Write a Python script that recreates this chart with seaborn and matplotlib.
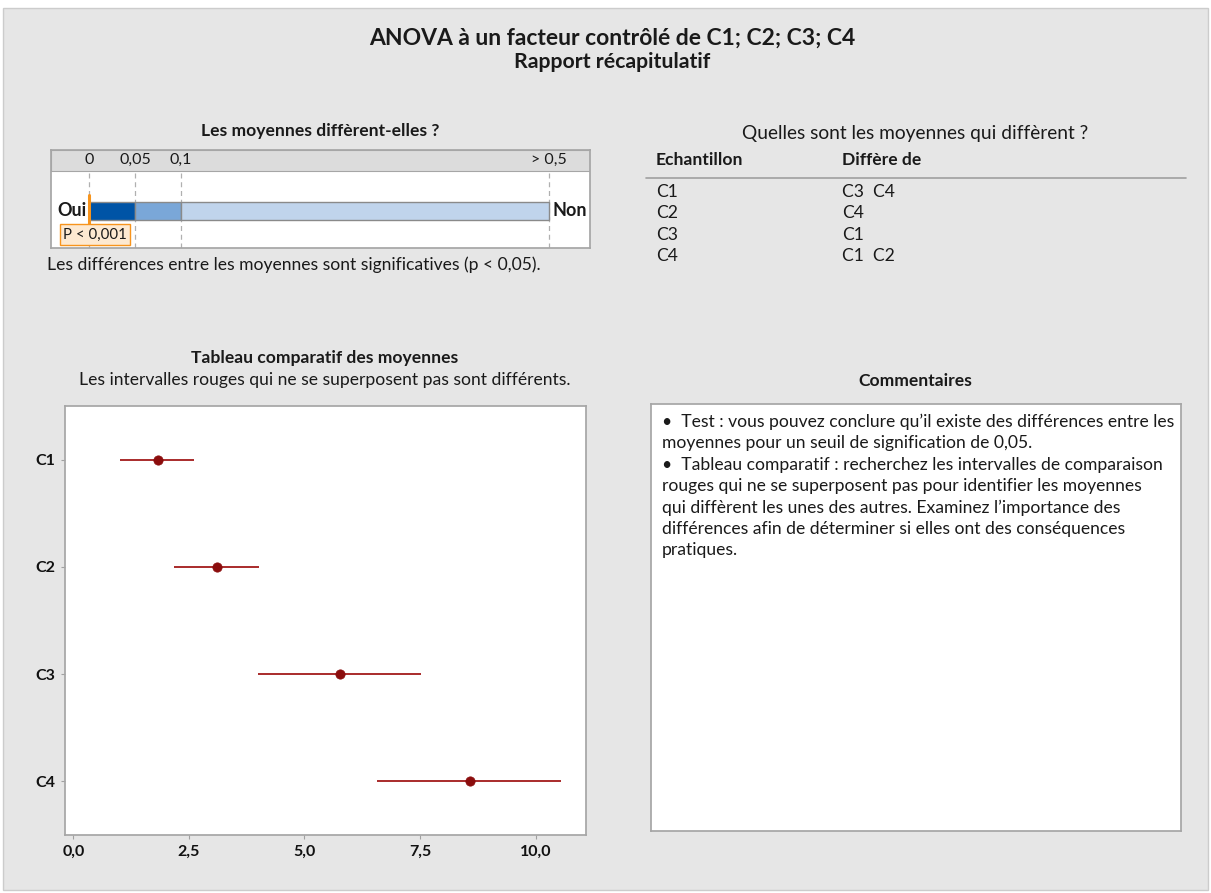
import numpy as np
import pandas as pd
import matplotlib
matplotlib.use("Agg")
import matplotlib.pyplot as plt
from matplotlib.patches import Rectangle
from matplotlib.lines import Line2D
import seaborn as sns

groups = ["C1", "C2", "C3", "C4"]
means = [1.83, 3.10, 5.76, 8.57]
ci_low = [1.02, 2.17, 3.99, 6.57]
ci_high = [2.60, 4.02, 7.52, 10.54]
x_ticks = [0.0, 2.5, 5.0, 7.5, 10.0]

p_cuts = [0.0, 0.05, 0.1, 0.5]
p_labels = ["0", "0,05", "0,1", "> 0,5"]
p_value = 0.0
p_text = "P < 0,001"

differs_from = ["C3  C4", "C4", "C1", "C1  C2"]

comments = [
    "•  Test : vous pouvez conclure qu’il existe des différences entre les",
    "moyennes pour un seuil de signification de 0,05.",
    "•  Tableau comparatif : recherchez les intervalles de comparaison",
    "rouges qui ne se superposent pas pour identifier les moyennes",
    "qui diffèrent les unes des autres. Examinez l’importance des",
    "différences afin de déterminer si elles ont des conséquences",
    "pratiques.",
]

sns.set_theme(style="white")
plt.rcParams["font.family"] = ["Lato", "DejaVu Sans"]
plt.rcParams["text.color"] = "#1a1a1a"

W, H = 1211, 893
BG = "#e6e6e6"
EDGE = "#a6a6a6"
FS = 12.6  # taille du texte courant


def fx(x):
    return x / W


def fy(y):
    return 1 - y / H


def box(x0, y0, x1, y1):
    return [fx(x0), fy(y1), fx(x1) - fx(x0), fy(y0) - fy(y1)]


fig = plt.figure(figsize=(W / 100, H / 100), dpi=100, facecolor="white")
fig.patches.append(Rectangle((fx(3), fy(890)), fx(1208) - fx(3), fy(8) - fy(890),
                             transform=fig.transFigure, facecolor=BG,
                             edgecolor="#cccccc", lw=1, zorder=-10))

# titres
fig.text(fx(612), fy(38), "ANOVA à un facteur contrôlé de C1; C2; C3; C4",
         ha="center", va="center", fontsize=16.5, fontweight="bold")
fig.text(fx(612), fy(62), "Rapport récapitulatif",
         ha="center", va="center", fontsize=15.3, fontweight="bold")

# --- les moyennes different-elles ? ---
fig.text(fx(320), fy(131), "Les moyennes diffèrent-elles ?",
         ha="center", va="center", fontsize=FS, fontweight="bold")
axp = fig.add_axes(box(51, 150, 590, 248))
axp.set_facecolor("white")
px_per = (135 - 89) / 0.05
axp.set_xlim((51 - 89) / px_per, (590 - 89) / px_per)
axp.set_ylim(0, 1)
axp.set_xticks([])
axp.set_yticks([])
for s in axp.spines.values():
    s.set_color(EDGE)
axp.add_patch(Rectangle((0, 0.786), 1, 0.214, transform=axp.transAxes,
                        facecolor="#dcdcdc", edgecolor=EDGE, lw=0.8, zorder=0))

bar_cols = ["#0054a6", "#7aa7d8", "#c0d4ec"]
axp.barh([0.378] * 3, np.diff(p_cuts), left=p_cuts[:-1], height=0.184,
         color=bar_cols, edgecolor="#8a8a8a", linewidth=1, zorder=2)
for c, lab in zip(p_cuts, p_labels):
    axp.plot([c, c], [0, 0.786], ls=(0, (4, 3)), color="#b0b0b0", lw=0.9, zorder=1)
    axp.text(c, 0.898, lab, ha="center", va="center", fontsize=11.5)
axp.text(-0.003, 0.378, "Oui", ha="right", va="center", fontsize=13, fontweight="bold")
axp.text(0.504, 0.378, "Non", ha="left", va="center", fontsize=13, fontweight="bold")
axp.plot([p_value, p_value], [0.235, 0.541], color="#f7941d", lw=2.2, zorder=4)
axp.text(p_value + 0.0067, 0.137, p_text, ha="center", va="center", fontsize=10.8,
         bbox=dict(boxstyle="square,pad=0.22", facecolor="#fde9d1",
                   edgecolor="#f7941d", lw=1), zorder=5)
fig.text(fx(47), fy(265), "Les différences entre les moyennes sont significatives (p < 0,05).",
         ha="left", va="center", fontsize=FS)

# --- quelles moyennes different ---
fig.text(fx(915), fy(133), "Quelles sont les moyennes qui diffèrent ?",
         ha="center", va="center", fontsize=13.8)
fig.text(fx(656), fy(160), "Echantillon", ha="left", va="center", fontsize=FS,
         fontweight="bold")
fig.text(fx(842), fy(160), "Diffère de", ha="left", va="center", fontsize=FS,
         fontweight="bold")
fig.lines.append(Line2D([fx(646), fx(1186)], [fy(178), fy(178)],
                        transform=fig.transFigure, color="#a0a0a0", lw=1.2))
for i, (g, d) in enumerate(zip(groups, differs_from)):
    yy = 192 + i * 21.3
    fig.text(fx(656), fy(yy), g, ha="left", va="center", fontsize=FS)
    fig.text(fx(842), fy(yy), d, ha="left", va="center", fontsize=FS)

# --- tableau comparatif ---
fig.text(fx(325), fy(358), "Tableau comparatif des moyennes",
         ha="center", va="center", fontsize=FS, fontweight="bold")
fig.text(fx(325), fy(380), "Les intervalles rouges qui ne se superposent pas sont différents.",
         ha="center", va="center", fontsize=FS)

df = pd.DataFrame({"groupe": groups, "moyenne": means, "bas": ci_low, "haut": ci_high})
ax = fig.add_axes(box(65, 406, 586, 835))
ax.set_facecolor("white")
ypos = np.arange(len(groups))
ax.hlines(ypos, df["bas"], df["haut"], color="#a31a1a", lw=1.3, zorder=2)
sns.scatterplot(x=df["moyenne"], y=ypos, ax=ax, color="#8b0d0d", s=45,
                edgecolor="#8b0d0d", linewidth=0.5, zorder=3)
ax.set_xlim(-0.18, 11.09)
ax.set_ylim(3.5, -0.5)
ax.set_yticks(ypos)
ax.set_yticklabels(groups)
ax.set_xticks(x_ticks)
ax.set_xticklabels([f"{v:.1f}".replace(".", ",") for v in x_ticks])
ax.set_xlabel("")
ax.set_ylabel("")
ax.tick_params(axis="both", which="both", length=3, width=0.8, color="#a0a0a0",
               labelsize=11.5, labelcolor="#111111", pad=4, bottom=True, left=True)
for lab in ax.get_xticklabels() + ax.get_yticklabels():
    lab.set_fontweight("bold")
for s in ax.spines.values():
    s.set_color(EDGE)

# --- commentaires ---
fig.text(fx(915), fy(381), "Commentaires", ha="center", va="center",
         fontsize=FS, fontweight="bold")
axc = fig.add_axes(box(651, 404, 1181, 831))
axc.set_facecolor("white")
axc.set_xticks([])
axc.set_yticks([])
for s in axc.spines.values():
    s.set_color(EDGE)
for i, line in enumerate(comments):
    fig.text(fx(662), fy(422 + i * 21.4), line, ha="left", va="center", fontsize=FS)

fig.savefig("out.png", dpi=100, facecolor=fig.get_facecolor())
